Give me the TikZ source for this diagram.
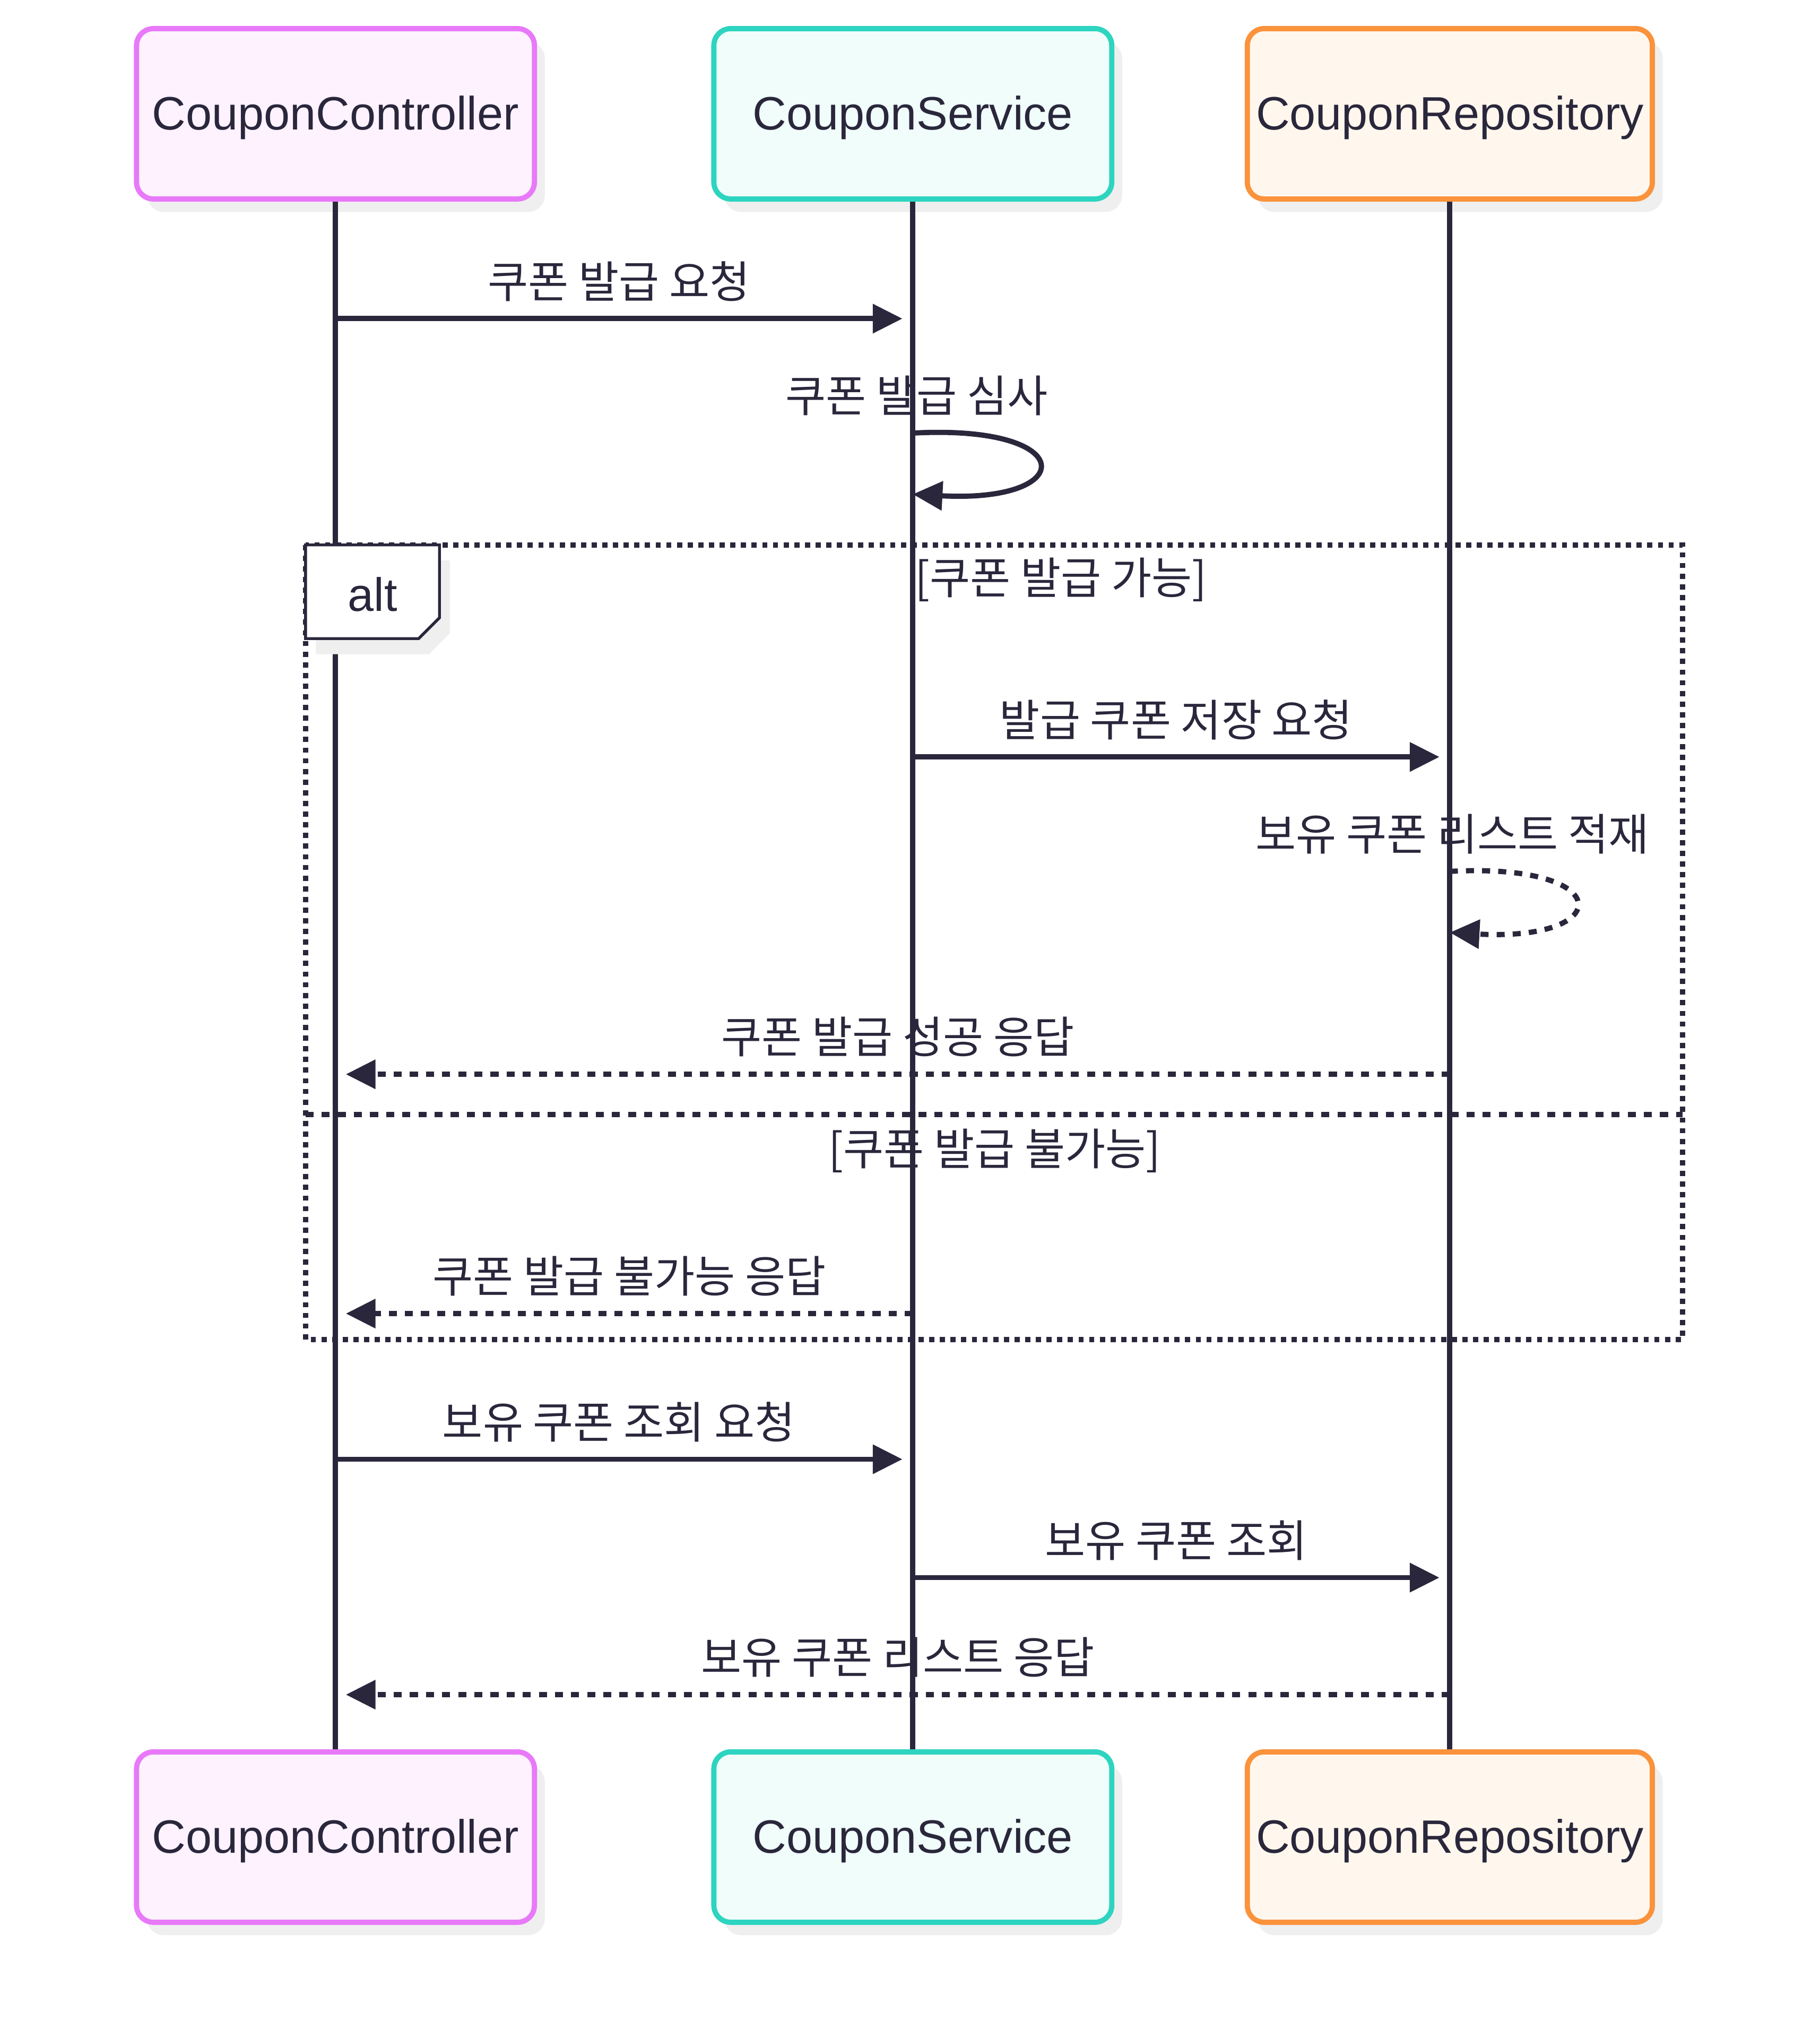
\documentclass[tikz,border=0pt]{standalone}
\usepackage{fontspec}
\newfontfamily\actorfont{Liberation Sans}
\newfontfamily\kr{Noto Sans CJK KR}
\usepackage{tikz}
\usetikzlibrary{arrows.meta,shadows}
\definecolor{line_dark}{RGB}{42,39,60}
\definecolor{box_pink}{RGB}{232,121,249}
\definecolor{fill_pink}{RGB}{253,242,254}
\definecolor{box_teal}{RGB}{45,212,191}
\definecolor{fill_teal}{RGB}{240,253,250}
\definecolor{box_orange}{RGB}{251,146,60}
\definecolor{fill_orange}{RGB}{255,247,237}
\definecolor{shadow_gray}{RGB}{239,239,239}

\begin{document}
\begin{tikzpicture}[line width=2pt,>={Triangle[length=11.4pt,width=10.9pt]},x=0.5pt,y=-0.5pt,line_dark]
    \tikzstyle{actor}=[draw, rounded corners=6.5pt, minimum width=153pt, minimum height=65.5pt, text depth=0.08em, text=line_dark, font=\actorfont\fontsize{18}{21}\selectfont, drop shadow={shadow xshift=4pt, shadow yshift=-5pt, fill=shadow_gray, opacity=1}]
    \tikzstyle{lbl}=[anchor=base, yshift=8pt, text=line_dark, font=\kr\fontsize{16.9}{20}\selectfont]
    \tikzstyle{cond}=[anchor=base, text=line_dark, font=\kr\fontsize{16.9}{20}\selectfont]
    \tikzstyle{call}=[->]
    \tikzstyle{reply}=[call, dash pattern=on 3.1pt off 3.1pt]
    \tikzstyle{life}=[line width=2pt]
    \tikzstyle{frame}=[line width=2pt, dash pattern=on 2pt off 2.1pt]
    \tikzstyle{split}=[line width=2pt, dash pattern=on 3.1pt off 3.1pt]
    \tikzstyle{tag}=[line width=1.1pt, fill=white, drop shadow={shadow xshift=4pt, shadow yshift=-6pt, fill=shadow_gray, opacity=1}]

    \useasboundingbox (0,0) rectangle (1399.3,1567);

    \node[actor, draw=box_pink, fill=fill_pink]     (c1) at (258,87.5)    {CouponController};
    \node[actor, draw=box_teal, fill=fill_teal]     (s1) at (702,87.5)    {CouponService};
    \node[actor, draw=box_orange, fill=fill_orange] (r1) at (1115,87.5)   {CouponRepository};
    \node[actor, draw=box_pink, fill=fill_pink]     (c2) at (258,1412.5)  {CouponController};
    \node[actor, draw=box_teal, fill=fill_teal]     (s2) at (702,1412.5)  {CouponService};
    \node[actor, draw=box_orange, fill=fill_orange] (r2) at (1115,1412.5) {CouponRepository};

    \path
     (c1) edge[life] (c2)
     (s1) edge[life] (s2)
     (r1) edge[life] (r2)
     ;

    \draw[frame] (235,419) rectangle (1294,1030);
    \draw[split] (235,857) -- (1294,857);
    \draw[tag] (235,419) -- (338,419) -- (338,475) -- (322,491) -- (235,491) -- cycle;
    \node[text=line_dark, font=\actorfont\fontsize{18}{21}\selectfont] (alt) at (286.5,457) {alt};
    \node[cond] (g1) at (816,457) {[쿠폰 발급 가능]};
    \node[cond] (g2) at (765,896) {[쿠폰 발급 불가능]};

    \coordinate (m1a) at (258,245);  \coordinate (m1b) at (694,245);
    \coordinate (l1a) at (702,333);  \coordinate (l1b) at (702,380);
    \coordinate (m3a) at (702,582);  \coordinate (m3b) at (1107,582);
    \coordinate (l2a) at (1115,670); \coordinate (l2b) at (1115,717);
    \coordinate (m5a) at (1115,826); \coordinate (m5b) at (266,826);
    \coordinate (m6a) at (702,1010); \coordinate (m6b) at (266,1010);
    \coordinate (m7a) at (258,1122); \coordinate (m7b) at (694,1122);
    \coordinate (m8a) at (702,1213); \coordinate (m8b) at (1107,1213);
    \coordinate (m9a) at (1115,1303); \coordinate (m9b) at (266,1303);

    \path
     (m1a) edge[call]  node[lbl] {쿠폰 발급 요청} (m1b)
     (m3a) edge[call]  node[lbl] {발급 쿠폰 저장 요청} (m3b)
     (m5a) edge[reply] node[lbl] {쿠폰 발급 성공 응답} (m5b)
     (m6a) edge[reply] node[lbl] {쿠폰 발급 불가능 응답} (m6b)
     (m7a) edge[call]  node[lbl] {보유 쿠폰 조회 요청} (m7b)
     (m8a) edge[call]  node[lbl] {보유 쿠폰 조회} (m8b)
     (m9a) edge[reply] node[lbl] {보유 쿠폰 리스트 응답} (m9b)
     ;

    \draw[->] (l1a) .. controls +(128,-7) and +(128,7) .. (l1b);
    \draw[->, dash pattern=on 3.1pt off 3.1pt] (l2a) .. controls +(128,-7) and +(128,7) .. (l2b);
    \node[lbl] (t1) at (705,333)  {쿠폰 발급 심사};
    \node[lbl] (t2) at (1117,670) {보유 쿠폰 리스트 적재};
  \end{tikzpicture}
\end{document}
